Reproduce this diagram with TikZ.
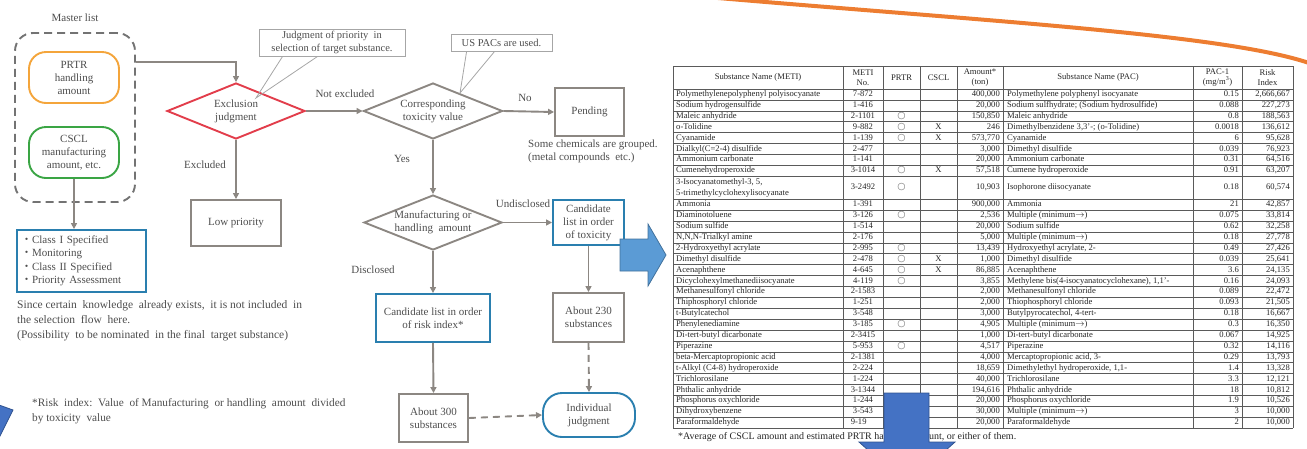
\documentclass[tikz,border=0pt]{standalone}
\usepackage{fontspec}
\setmainfont{Liberation Serif}
\newfontfamily\symf{DejaVu Sans}
\newfontfamily\cjkf{Noto Sans CJK JP}
\usetikzlibrary{shapes.geometric,arrows.meta,calc}
\definecolor{fgray}{HTML}{8C8782}
\definecolor{ftext}{HTML}{4D4D4D}
\definecolor{fred}{HTML}{E23D4B}
\definecolor{forange}{HTML}{F4A53B}
\definecolor{fgreen}{HTML}{3AA544}
\definecolor{fblue}{HTML}{2A7FAF}
\definecolor{arrblue}{HTML}{5B9BD5}
\definecolor{arrblueb}{HTML}{41719C}
\definecolor{darkblue}{HTML}{4472C4}
\definecolor{darkblueb}{HTML}{2F528F}
\definecolor{orng}{HTML}{ED7D31}
\definecolor{tline}{HTML}{5A5A5A}
\newcommand\tabfont{\fontsize{8.6}{9.6}\selectfont}
\newcommand\okmark{{\symf\fontsize{9.5}{9.5}\selectfont\color{black!55}○}}
\newcommand\tabrow[9]{%
  \node[tl] at (676,#1) {#2};
  \node[tc] at (863,#1) {#3};
  \node[tc] at (901.5,#1) {#4};
  \node[tc] at (938.5,#1) {#5};
  \node[tr] at (1000,#1) {#6};
  \node[tl] at (1007,#1) {#7};
  \node[tr] at (1239,#1) {#8};
  \node[tr] at (1290,#1) {#9};
}
\begin{document}
\begin{tikzpicture}[x=1pt,y=-1pt,
  ft/.style={font=\fontsize{11}{13}\selectfont, text=ftext},
  gbox/.style={ft, draw=fgray, line width=1.9pt, align=center, inner sep=1pt},
  bbox/.style={gbox, draw=fblue},
  gdia/.style={diamond, draw=fgray, line width=1.9pt, inner sep=0pt},
  arr/.style={draw=fgray, line width=1.9pt, -{Triangle[length=6pt,width=6pt]}},
  darr/.style={arr, dash pattern=on 7pt off 5pt},
  call/.style={draw=black!35, line width=0.8pt},
  cbox/.style={ft, font=\fontsize{10.5}{12.5}\selectfont, draw=black!35, line width=0.8pt, align=center, inner sep=1pt},
  tcell/.style={font=\tabfont, text=black!85, inner sep=0pt, text height=6pt, text depth=1.8pt},
  tl/.style={tcell, anchor=west},
  tr/.style={tcell, anchor=east},
  tc/.style={tcell, anchor=center},
  th/.style={font=\tabfont, text=black!85, inner sep=0pt, align=center},
  blockarr/.style={line width=0.8pt}
]
\useasboundingbox (0,0) rectangle (1307,448);

% ---------------- left part -----------------
\node[ft] (mlabel) at (75,18) {Master list};
\node[draw=black!55, dash pattern=on 8pt off 5pt, line width=1.9pt, rounded corners=18pt,
      minimum width=120pt, minimum height=169pt] (master) at (75,117.5) {};
\node[gbox, draw=forange, rounded corners=17pt, minimum width=90pt, minimum height=51pt] (prtr) at (74,77.5)
  {PRTR\\handling\\amount};
\node[gbox, draw=fgreen, rounded corners=17pt, minimum width=90pt, minimum height=51pt] (cscl) at (74,152.5)
  {CSCL\\manufacturing\\amount, etc.};
\node[bbox, align=left, text width=121pt, inner xsep=4pt, minimum height=62pt, font=\fontsize{11}{13.5}\selectfont] (classes) at (81.5,261)
  {{\cjkf ・}Class I Specified\\{\cjkf ・}Monitoring\\{\cjkf ・}Class II Specified\\{\cjkf ・}Priority Assessment};
\draw[arr] (cscl.south) -- (cscl.south |- classes.north);
\node[ft, anchor=north west, align=left, font=\fontsize{11.5}{15}\selectfont, inner sep=0pt] (since) at (17,300)
  {Since certain\ \ knowledge\ \ already exists,\ \ it\ is\ not included\ \ in\\
   the selection\ \ flow\ \ here.\\
   (Possibility\ \ to be nominated\ \ in the final\ \ target substance)};
\node[ft, anchor=north west, align=left, font=\fontsize{11.3}{15}\selectfont, inner sep=0pt] (risknote) at (32,398)
  {*Risk\ \ index:\ \ Value\ \ of Manufacturing\ \ or handling\ \ amount\ \ divided\\
   by toxicity\ \ value};

% exclusion
\node[gdia, draw=fred, minimum width=138pt, minimum height=56pt] (excl) at (236,111) {};
\node[ft, align=center] (excltxt) at (excl.center) {Exclusion\\judgment};
\draw[arr] (master.east |- 0,62) -| (excl.north);
\node[cbox, minimum width=146pt, minimum height=27pt] (callA) at (332,42.5)
  {Judgment of priority\ \ in\\selection of target substance.};
\coordinate (tipA) at (256,98);
\draw[call] ($(callA.south west)+(24,0)$) -- (tipA) -- ($(callA.south west)+(59,0)$);

\node[gbox, minimum width=90pt, minimum height=46pt] (lowp) at (236,223) {Low priority};
\draw[arr] (excl.south) -- (lowp.north);
\node[ft] (lexcl) at (205,165) {Excluded};

% toxicity
\node[gdia, minimum width=139pt, minimum height=56pt] (tox) at (433,111) {};
\node[ft, align=center] (toxtxt) at (tox.center) {Corresponding\\toxicity\ value};
\draw[arr] (excl.east) -- (tox.west);
\node[ft] (lnotex) at (345,94) {Not excluded};
\node[cbox, minimum width=101pt, minimum height=17pt] (callB) at (501.5,42.5) {US PACs are used.};
\coordinate (tipB) at (460,93);
\draw[call] ($(callB.south west)+(16,0)$) -- (tipB) -- ($(callB.south west)+(44,0)$);

\node[gbox, minimum width=69pt, minimum height=48pt] (pend) at (589.5,112) {Pending};
\draw[arr] (tox.east) -- (pend.west);
\node[ft] (lno) at (525,98) {No};
\node[ft, anchor=north west, align=left, inner sep=0pt] (grouped) at (528,140)
  {Some chemicals are grouped.\\(metal compounds\ \ etc.)};

% manufacturing
\node[gdia, minimum width=138pt, minimum height=55pt] (manu) at (433,222.5) {};
\node[ft, align=center] (manutxt) at (manu.center) {Manufacturing or\\handling\ \ amount};
\draw[arr] (tox.south) -- (manu.north);
\node[ft] (lyes) at (402,159) {Yes};

\node[bbox, minimum width=71pt, minimum height=45pt] (candtox) at (588.5,222.5)
  {Candidate\\list in order\\of toxicity};
\draw[arr] (manu.east) -- (candtox.west);
\node[ft] (lundis) at (523,204) {Undisclosed};

\node[gbox, minimum width=71pt, minimum height=49pt] (ab230) at (588.5,317.5) {About 230\\substances};
\draw[arr] (candtox.south) -- (ab230.north);

\node[bbox, rounded corners=19pt, minimum width=92pt, minimum height=44pt] (indiv) at (589,415)
  {Individual\\judgment};
\draw[darr] (ab230.south) -- (indiv.north);

\node[bbox, minimum width=114pt, minimum height=48pt] (candrisk) at (433,318)
  {Candidate list in order\\of risk index*};
\draw[arr] (manu.south) -- (candrisk.north);
\node[ft] (ldis) at (373,270) {Disclosed};

\node[gbox, minimum width=69pt, minimum height=48pt] (ab300) at (433.5,418) {About 300\\substances};
\draw[arr] (candrisk.south) -- (ab300.north);
\draw[darr] (ab300.east) -- (indiv.west);

% ---------------- table -----------------
\foreach \x in {673,843,883,920,957,1003,1193,1242,1293}
  \draw[tline, line width=0.6pt] (\x,66) -- (\x,428.1);
\draw[tline, line width=0.6pt] (673,66) -- (1293,66);
\draw[tline, line width=0.6pt] (673,89) -- (1293,89);
\foreach \k in {1,...,8}
  \draw[tline, line width=0.5pt] (673,{89+\k*10.9}) -- (1293,{89+\k*10.9});
\foreach \k in {0,...,21}
  \draw[tline, line width=0.5pt] (673,{199.2+\k*10.9}) -- (1293,{199.2+\k*10.9});

\node[th] at (758,77.5) {Substance Name (METI)};
\node[th] at (863,77.5) {METI\\No.};
\node[th] at (901.5,77.5) {PRTR};
\node[th] at (938.5,77.5) {CSCL};
\node[th] at (980,77.5) {Amount*\\(ton)};
\node[th] at (1098,77.5) {Substance Name (PAC)};
\node[th] at (1217.5,77.5) {PAC-1\\(mg/m\textsuperscript{3})};
\node[th] at (1267.5,77.5) {Risk\\Index};

\tabrow{94.45}{Polymethylenepolyphenyl polyisocyanate}{7-872}{}{}{400,000}{Polymethylene polyphenyl isocyanate}{0.15}{2,666,667}
\tabrow{105.35}{Sodium hydrogensulfide}{1-416}{}{}{20,000}{Sodium sulfhydrate; (Sodium hydrosulfide)}{0.088}{227,273}
\tabrow{116.25}{Maleic anhydride}{2-1101}{\okmark}{}{150,850}{Maleic anhydride}{0.8}{188,563}
\tabrow{127.15}{o-Tolidine}{9-882}{\okmark}{X}{246}{Dimethylbenzidene 3,3'-; (o-Tolidine)}{0.0018}{136,612}
\tabrow{138.05}{Cyanamide}{1-139}{\okmark}{X}{573,770}{Cyanamide}{6}{95,628}
\tabrow{148.95}{Dialkyl(C=2-4) disulfide}{2-477}{}{}{3,000}{Dimethyl disulfide}{0.039}{76,923}
\tabrow{159.85}{Ammonium carbonate}{1-141}{}{}{20,000}{Ammonium carbonate}{0.31}{64,516}
\tabrow{170.75}{Cumenehydroperoxide}{3-1014}{\okmark}{X}{57,518}{Cumene hydroperoxide}{0.91}{63,207}
\tabrow{187.7}{}{3-2492}{\okmark}{}{10,903}{Isophorone diisocyanate}{0.18}{60,574}
\node[tl] at (676,182) {3-Isocyanatomethyl-3, 5,};
\node[tl] at (676,193) {5-trimethylcyclohexylisocyanate};
\tabrow{204.65}{Ammonia}{1-391}{}{}{900,000}{Ammonia}{21}{42,857}
\tabrow{215.55}{Diaminotoluene}{3-126}{\okmark}{}{2,536}{Multiple (minimum$\rightarrow$)}{0.075}{33,814}
\tabrow{226.45}{Sodium sulfide}{1-514}{}{}{20,000}{Sodium sulfide}{0.62}{32,258}
\tabrow{237.35}{N,N,N-Trialkyl amine}{2-176}{}{}{5,000}{Multiple (minimum$\rightarrow$)}{0.18}{27,778}
\tabrow{248.25}{2-Hydroxyethyl acrylate}{2-995}{\okmark}{}{13,439}{Hydroxyethyl acrylate, 2-}{0.49}{27,426}
\tabrow{259.15}{Dimethyl disulfide}{2-478}{\okmark}{X}{1,000}{Dimethyl disulfide}{0.039}{25,641}
\tabrow{270.05}{Acenaphthene}{4-645}{\okmark}{X}{86,885}{Acenaphthene}{3.6}{24,135}
\tabrow{280.95}{Dicyclohexylmethanediisocyanate}{4-119}{\okmark}{}{3,855}{Methylene bis(4-isocyanatocyclohexane), 1,1'-}{0.16}{24,093}
\tabrow{291.85}{Methanesulfonyl chloride}{2-1583}{}{}{2,000}{Methanesulfonyl chloride}{0.089}{22,472}
\tabrow{302.75}{Thiphosphoryl chloride}{1-251}{}{}{2,000}{Thiophosphoryl chloride}{0.093}{21,505}
\tabrow{313.65}{t-Butylcatechol}{3-548}{}{}{3,000}{Butylpyrocatechol, 4-tert-}{0.18}{16,667}
\tabrow{324.55}{Phenylenediamine}{3-185}{\okmark}{}{4,905}{Multiple (minimum$\rightarrow$)}{0.3}{16,350}
\tabrow{335.45}{Di-tert-butyl dicarbonate}{2-3415}{}{}{1,000}{Di-tert-butyl dicarbonate}{0.067}{14,925}
\tabrow{346.35}{Piperazine}{5-953}{\okmark}{}{4,517}{Piperazine}{0.32}{14,116}
\tabrow{357.25}{beta-Mercaptopropionic acid}{2-1381}{}{}{4,000}{Mercaptopropionic acid, 3-}{0.29}{13,793}
\tabrow{368.15}{t-Alkyl (C4-8) hydroperoxide}{2-224}{}{}{18,659}{Dimethylethyl hydroperoxide, 1,1-}{1.4}{13,328}
\tabrow{379.05}{Trichlorosilane}{1-224}{}{}{40,000}{Trichlorosilane}{3.3}{12,121}
\tabrow{389.95}{Phthalic anhydride}{3-1344}{}{}{194,616}{Phthalic anhydride}{18}{10,812}
\tabrow{400.85}{Phosphorus oxychloride}{1-244}{}{}{20,000}{Phosphorus oxychloride}{1.9}{10,526}
\tabrow{411.75}{Dihydroxybenzene}{3-543}{}{}{30,000}{Multiple (minimum$\rightarrow$)}{3}{10,000}
\tabrow{422.65}{Paraformaldehyde}{9-19\phantom{42}}{}{}{20,000}{Paraformaldehyde}{2}{10,000}
\node[anchor=west, inner sep=0pt, font=\fontsize{10}{11}\selectfont, text=black!85] (foot) at (678,437.5)
  {*Average of CSCL amount and estimated PRTR handling amount, or either of them.};

% ---------------- decorations -----------------
\draw[orng, line width=4pt] (718,-2) .. controls (1000,22) and (1230,35) .. (1312,64);
\fill[arrblue, draw=arrblueb, blockarr] (620,239) -- (648,239) -- (648,224) -- (666,255)
  -- (648,286) -- (648,271) -- (620,271) -- cycle;
\fill[darkblue, draw=darkblueb, blockarr] (884,393) -- (929,393) -- (929,442) -- (955,442)
  -- (907,485) -- (859,442) -- (884,442) -- cycle;
\fill[darkblue, draw=darkblueb, blockarr] (-1,405) -- (13,410) -- (-1,438) -- cycle;
\end{tikzpicture}
\end{document}
